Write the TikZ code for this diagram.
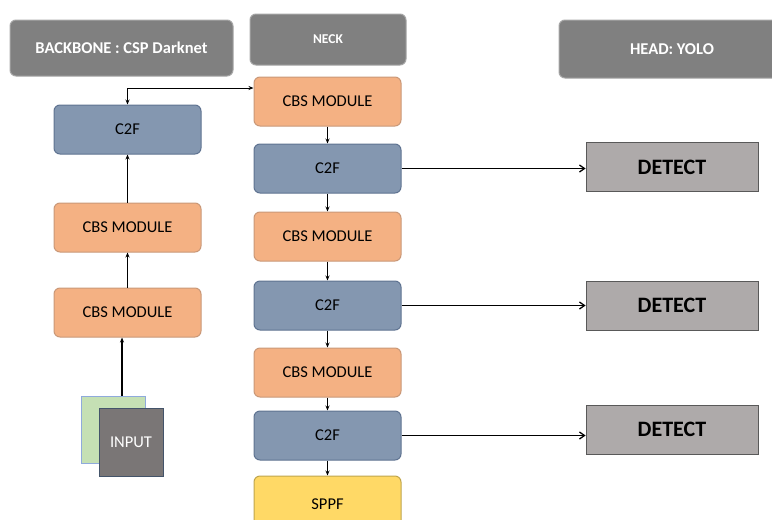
\documentclass[tikz,border=0pt]{standalone}
\usepackage{fontspec}
\setmainfont{Carlito}
\usetikzlibrary{arrows.meta}
\definecolor{cbsfill}{HTML}{F4B183}
\definecolor{cbsdraw}{HTML}{C99878}
\definecolor{cfill}{HTML}{8497B0}
\definecolor{cdraw}{HTML}{5F7391}
\definecolor{hfill}{HTML}{808080}
\definecolor{hdraw}{HTML}{A6A6A6}
\definecolor{dfill}{HTML}{AEAAAA}
\definecolor{ddraw}{HTML}{595959}
\definecolor{yfill}{HTML}{FFD966}
\definecolor{ydraw}{HTML}{BFA54D}
\definecolor{gfill}{HTML}{C5E0B4}
\definecolor{gdraw}{HTML}{8FAADC}
\definecolor{ifill}{HTML}{7A7676}
\definecolor{idraw}{HTML}{44546A}
\begin{document}
\begin{tikzpicture}[x=1pt,y=-1pt,
  blk/.style={rounded corners=6pt, line width=1pt, minimum width=147pt, minimum height=49pt, inner sep=0pt, font=\fontsize{16.5}{18}\selectfont},
  cbs/.style={blk, fill=cbsfill, draw=cbsdraw},
  ctwof/.style={blk, fill=cfill, draw=cdraw},
  sppf/.style={blk, fill=yfill, draw=ydraw},
  hdr/.style={rounded corners=6pt, line width=1pt, fill=hfill, draw=hdraw, inner sep=0pt, text=white, font=\bfseries\fontsize{16.5}{18}\selectfont},
  det/.style={fill=dfill, draw=ddraw, line width=0.8pt, minimum width=172pt, minimum height=49pt, inner sep=0pt, font=\bfseries\fontsize{22}{24}\selectfont},
  arr/.style={-{Stealth[length=5pt,width=4pt]}, line width=0.8pt},
  harr/.style={-{Straight Barb[length=5pt,width=7pt]}, line width=1.3pt}
]
\useasboundingbox (0,0) rectangle (772,520);
% headers
\node[hdr, minimum width=223pt, minimum height=56pt] (hb) at (121.5,48) {BACKBONE : CSP Darknet};
\node[hdr, minimum width=156pt, minimum height=51pt, font=\bfseries\fontsize{13.5}{15}\selectfont] (hn) at (328,39.5) {NECK};
\node[hdr, minimum width=226pt, minimum height=58pt] (hh) at (672,49) {HEAD: YOLO};
% backbone
\node[ctwof] (bc) at (127.5,129.5) {C2F};
\node[cbs] (bb1) at (127.5,227.5) {CBS MODULE};
\node[cbs] (bb2) at (127.5,312.5) {CBS MODULE};
\node[fill=gfill, draw=gdraw, line width=0.8pt, minimum width=64pt, minimum height=67pt, inner sep=0pt] (ing) at (113,429.5) {};
\node[fill=ifill, draw=idraw, line width=0.8pt, minimum width=64pt, minimum height=68pt, inner sep=0pt, text=white, font=\fontsize{16.5}{18}\selectfont] (in) at (131,442) {INPUT};
% neck
\node[cbs] (n1) at (327.5,101.5) {CBS MODULE};
\node[ctwof] (n2) at (327.5,168.5) {C2F};
\node[cbs] (n3) at (327.5,236.5) {CBS MODULE};
\node[ctwof] (n4) at (327.5,305.5) {C2F};
\node[cbs] (n5) at (327.5,372.5) {CBS MODULE};
\node[ctwof] (n6) at (327.5,435.5) {C2F};
\node[sppf, minimum height=56pt] (n7) at (327.5,504) {SPPF};
% detect
\node[det] (d1) at (672,167) {DETECT};
\node[det] (d2) at (672,305.5) {DETECT};
\node[det] (d3) at (672,429.5) {DETECT};
% connectors
\coordinate (inTop) at (122,396);
\draw[arr, line width=1.2pt] (inTop) -- (inTop |- bb2.south);
\draw[arr, line width=1.2pt] (bb2.north) -- (bb1.south);
\draw[arr] (bb1.north) -- (bc.south);
\coordinate (kink) at (127.5,88);
\draw[{Stealth[length=5pt,width=4pt]}-{Stealth[length=5pt,width=4pt]}, line width=0.8pt] (bc.north) -- (kink) -- (n1.west |- kink);
\draw[arr] (n1) -- (n2);
\draw[arr] (n2) -- (n3);
\draw[arr] (n3) -- (n4);
\draw[arr] (n4) -- (n5);
\draw[arr] (n5) -- (n6);
\draw[arr] (n6) -- (n7);
\draw[harr] (n2.east) -- (d1.west |- n2.east);
\draw[harr] (n4.east) -- (d2.west |- n4.east);
\draw[harr] (n6.east) -- (d3.west |- n6.east);
\end{tikzpicture}
\end{document}
